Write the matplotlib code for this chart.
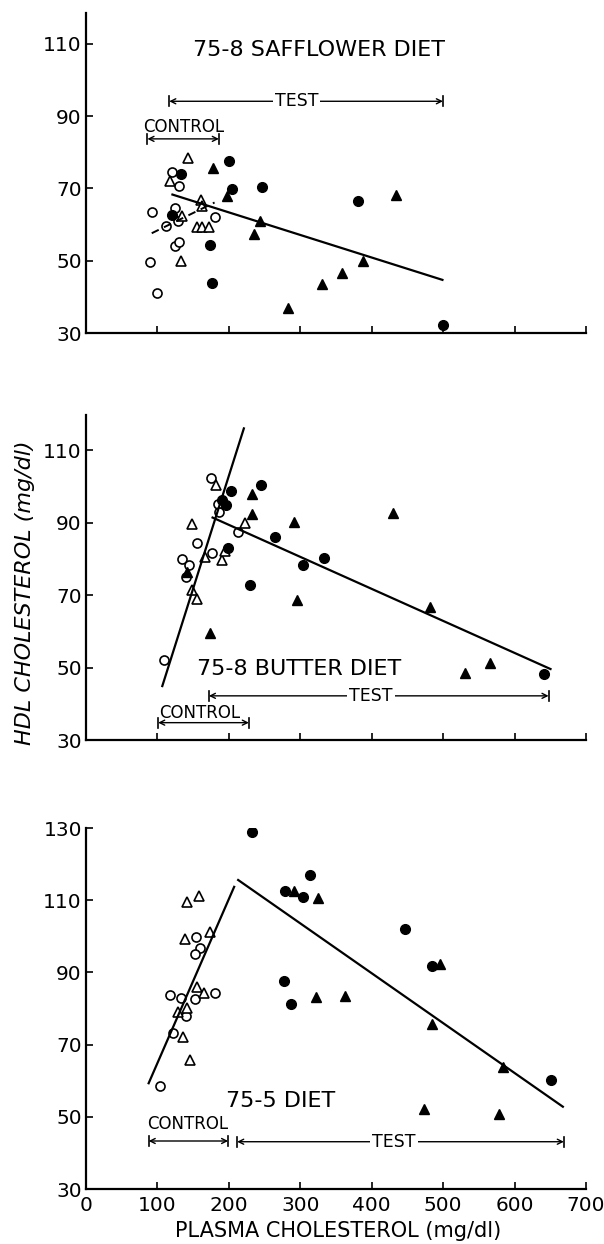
import matplotlib
matplotlib.use("Agg")
import matplotlib.pyplot as plt

plt.rcParams['font.family'] = ['DejaVu Sans']

# ---- 75-8 safflower diet ----
saff_oc_x = [93, 89, 100, 120, 130, 125, 129, 112, 125, 130, 181]
saff_oc_y = [63.4, 49.7, 41.2, 74.4, 70.8, 64.7, 61, 59.6, 54.2, 55.1, 62]
saff_ot_x = [143, 118, 161, 162, 134, 155, 163, 172, 133]
saff_ot_y = [78.4, 72.1, 66.8, 65, 62.5, 59.4, 59.4, 59.4, 50]
saff_fc_x = [133, 121, 200, 204, 247, 174, 177, 381, 500]
saff_fc_y = [74, 62.7, 77.6, 69.7, 70.5, 54.4, 43.9, 66.6, 32.2]
saff_ft_x = [178, 198, 243, 235, 283, 331, 359, 388, 434]
saff_ft_y = [75.6, 67.8, 61, 57.3, 36.8, 43.5, 46.5, 49.8, 68.2]
saff_fit_x = [121, 499]
saff_fit_y = [68.3, 44.7]
saff_ctl_fit_x = [92, 180]
saff_ctl_fit_y = [57.6, 66.1]
saff_control = [86, 186]
saff_test = [116.5, 499.7]

# ---- 75-8 butter diet ----
butt_oc_x = [109.5, 174.4, 184.2, 186.4, 213.3, 154.8, 176.6, 134.3, 144, 140.5]
butt_oc_y = [52.1, 102.4, 95.2, 93, 87.3, 84.4, 81.7, 80, 78.4, 74.9]
butt_ot_x = [182.5, 148, 222.8, 166, 190.2, 149, 155.7, 194.8]
butt_ot_y = [100.5, 89.7, 90, 80.4, 79.8, 71.4, 69, 82.2]
butt_fc_x = [202.6, 244.6, 191, 196, 199, 264.8, 229.8, 304, 332.9, 640.6]
butt_fc_y = [98.8, 100.3, 96.2, 94.8, 83.1, 86.1, 72.8, 78.4, 80.3, 48.2]
butt_ft_x = [233, 232.8, 291, 173, 294.7, 429.8, 481, 530.5, 566, 141.3]
butt_ft_y = [98, 92.4, 90.2, 59.5, 68.7, 92.7, 66.8, 48.6, 51.4, 76.4]
butt_ctl_fit_x = [106.8, 221]
butt_ctl_fit_y = [44.9, 116]
butt_fit_x = [177.2, 650.3]
butt_fit_y = [91.4, 49.6]
butt_control = [101, 228]
butt_test = [172, 647.6]

# ---- 75-5 diet ----
d755_oc_x = [153.4, 159.6, 152, 180.4, 117, 132.4, 152, 139.6, 121.7, 103.9]
d755_oc_y = [99.8, 96.8, 95.1, 84.2, 83.8, 83, 82.5, 78, 73.3, 58.4]
d755_ot_x = [142, 158.5, 138.2, 173.9, 156, 165.5, 140.8, 128.4, 135.9, 145.2]
d755_ot_y = [109.5, 111.2, 99.2, 101.3, 85.9, 84.4, 80.2, 78.9, 72.1, 65.6]
d755_fc_x = [232.2, 313.3, 277.9, 304, 447.1, 484.3, 276.9, 286.3, 651.3]
d755_fc_y = [129, 117, 112.5, 111, 102, 91.8, 87.6, 81.3, 60.2]
d755_ft_x = [290.9, 325.4, 496.1, 322.1, 363.2, 484.8, 583.6, 473.2, 577.6]
d755_ft_y = [112.5, 110.7, 92.3, 83.3, 83.5, 75.6, 63.7, 52.2, 50.7]
d755_ctl_fit_x = [87.7, 207.4]
d755_ctl_fit_y = [59.3, 113.7]
d755_fit_x = [213, 667.6]
d755_fit_y = [115.6, 52.8]
d755_control = [87.7, 199]
d755_test = [211.6, 669]

x_ticks = [0, 100, 200, 300, 400, 500, 600, 700]


def points(ax, ocx, ocy, otx, oty, fcx, fcy, ftx, fty):
    ax.plot(ocx, ocy, 'o', ms=6.5, mfc='white', mec='black', mew=1.2, ls='none')
    ax.plot(otx, oty, '^', ms=6.5, mfc='white', mec='black', mew=1.2, ls='none')
    ax.plot(fcx, fcy, 'o', ms=7, mfc='black', mec='black', ls='none')
    ax.plot(ftx, fty, '^', ms=7, mfc='black', mec='black', ls='none')


def bracket(ax, span, y, label=None, labx=None):
    ax.annotate('', xy=(span[0], y), xytext=(span[1], y),
                arrowprops=dict(arrowstyle='<->', lw=1, color='black',
                                shrinkA=0, shrinkB=0, mutation_scale=9))
    for xx in span:
        ax.plot([xx, xx], [y - 1.4, y + 1.4], color='black', lw=1.2)
    if label:
        ax.text(labx, y, label, ha='center', va='center', fontsize=12.5,
                bbox=dict(fc='white', ec='none', pad=1.5))


def style(ax, ymax, yticks, show_x=False):
    ax.set_xlim(0, 700)
    ax.set_ylim(30, ymax)
    ax.set_xticks(x_ticks)
    ax.set_yticks(yticks)
    ax.spines['top'].set_visible(False)
    ax.spines['right'].set_visible(False)
    for s in ['left', 'bottom']:
        ax.spines[s].set_linewidth(1.6)
    ax.tick_params(direction='in', length=5, width=1.2, labelsize=14.5)
    ax.tick_params(axis='y', pad=3)
    ax.tick_params(axis='x', pad=5, labelbottom=show_x)


fig = plt.figure(figsize=(6.04, 12.44), dpi=100)
ax1 = fig.add_axes([0.1424, 0.7323, 0.8278, 0.2572])
ax2 = fig.add_axes([0.1424, 0.4051, 0.8278, 0.2613])
ax3 = fig.add_axes([0.1424, 0.0442, 0.8278, 0.2902])

# top panel
points(ax1, saff_oc_x, saff_oc_y, saff_ot_x, saff_ot_y,
       saff_fc_x, saff_fc_y, saff_ft_x, saff_ft_y)
ax1.plot(saff_fit_x, saff_fit_y, color='black', lw=1.6)
ax1.plot(saff_ctl_fit_x, saff_ctl_fit_y, color='black', lw=1.4, ls=(0, (4, 3)))
ax1.text(326, 108.4, '75-8 SAFFLOWER DIET', ha='center', va='center', fontsize=16)
bracket(ax1, saff_test, 94.1, 'TEST', 294.7)
bracket(ax1, saff_control, 83.7)
ax1.text(137, 86.9, 'CONTROL', ha='center', va='center', fontsize=12)
style(ax1, 118.5, [30, 50, 70, 90, 110])

# middle panel
points(ax2, butt_oc_x, butt_oc_y, butt_ot_x, butt_ot_y,
       butt_fc_x, butt_fc_y, butt_ft_x, butt_ft_y)
ax2.plot(butt_ctl_fit_x, butt_ctl_fit_y, color='black', lw=1.6)
ax2.plot(butt_fit_x, butt_fit_y, color='black', lw=1.6)
ax2.text(298, 49.6, '75-8 BUTTER DIET', ha='center', va='center', fontsize=16)
bracket(ax2, butt_test, 42.2, 'TEST', 399)
bracket(ax2, butt_control, 34.8)
ax2.text(159.4, 37.4, 'CONTROL', ha='center', va='center', fontsize=12)
style(ax2, 119.7, [30, 50, 70, 90, 110])

# bottom panel
points(ax3, d755_oc_x, d755_oc_y, d755_ot_x, d755_ot_y,
       d755_fc_x, d755_fc_y, d755_ft_x, d755_ft_y)
ax3.plot(d755_ctl_fit_x, d755_ctl_fit_y, color='black', lw=1.6)
ax3.plot(d755_fit_x, d755_fit_y, color='black', lw=1.6)
ax3.text(272.7, 54.4, '75-5 DIET', ha='center', va='center', fontsize=16)
bracket(ax3, d755_test, 43.1, 'TEST', 431)
bracket(ax3, d755_control, 43.3)
ax3.text(141.7, 48, 'CONTROL', ha='center', va='center', fontsize=12)
style(ax3, 130, [30, 50, 70, 90, 110, 130], show_x=True)

fig.text(0.559, 0.0105, 'PLASMA CHOLESTEROL (mg/dl)', ha='center', va='center', fontsize=15)
fig.text(0.041, 0.5233, 'HDL CHOLESTEROL (mg/dl)', rotation=90, ha='center', va='center',
         fontsize=16, style='italic', family=['Liberation Sans Narrow', 'DejaVu Sans'])

fig.savefig('out.png', dpi=100)
